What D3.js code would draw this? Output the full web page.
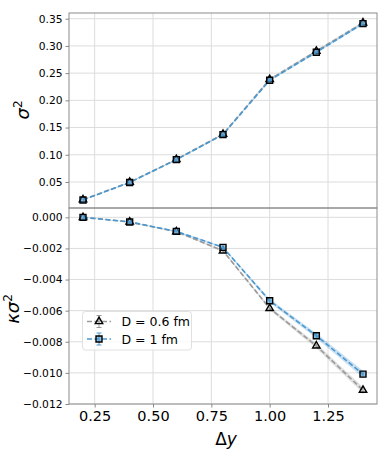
<!DOCTYPE html>
<html>
<head>
<meta charset="utf-8">
<script src="https://cdn.jsdelivr.net/npm/d3@7"></script>
<style>
body { margin: 0; background: #fff; }
text { font-family: "DejaVu Sans", sans-serif; fill: #000; }
</style>
</head>
<body>
<div id="chart"></div>
<script>
// data
var dy = [0.2, 0.4, 0.6, 0.8, 1.0, 1.2, 1.4];
var sig2_06 = [0.0175, 0.0495, 0.0915, 0.1380, 0.2385, 0.2905, 0.3425];
var sig2_1  = [0.0170, 0.0490, 0.0910, 0.1370, 0.2370, 0.2885, 0.3410];
var sig2err = [0.0005, 0.0008, 0.001, 0.0012, 0.0015, 0.0018, 0.002];
var ks2_06 = [0.0, -0.00030, -0.00092, -0.00215, -0.00585, -0.00826, -0.01111];
var ks2_1  = [0.0, -0.00030, -0.00090, -0.00193, -0.00536, -0.00761, -0.01008];
var ks2err_06 = [0.00001, 0.00002, 0.00004, 0.00006, 0.00010, 0.00015, 0.00020];
var ks2err_1  = [0.00001, 0.00002, 0.00004, 0.00006, 0.00011, 0.00016, 0.00022];
var xTicks = [0.25, 0.50, 0.75, 1.00, 1.25];
var topTicks = [0.05, 0.10, 0.15, 0.20, 0.25, 0.30, 0.35];
var botTicks = [0.000, -0.002, -0.004, -0.006, -0.008, -0.010, -0.012];
var labels = ["D = 0.6 fm", "D = 1 fm"];

var W = 381, H = 463;
var left = 69, right = 377;
var top1 = 13, bot1 = 208, bot2 = 404;
var gray = "#9a9a9a", blue = "#4a98d0";

var svg = d3.select("#chart").append("svg")
    .attr("width", W).attr("height", H);

var x = d3.scaleLinear().domain([0.14, 1.46]).range([left, right]);
var y1 = d3.scaleLinear().domain([0.0022, 0.3605]).range([bot1, top1]);
var y2 = d3.scaleLinear().domain([-0.0120, 0.0006]).range([bot2, bot1]);

function panel(y, yTicks, fmt, yTop, yBot, series) {
    var g = svg.append("g");
    // grid
    g.selectAll(".hg").data(yTicks).enter().append("line")
        .attr("x1", left).attr("x2", right)
        .attr("y1", function(d) { return y(d); }).attr("y2", function(d) { return y(d); })
        .attr("stroke", "#dcdcdc").attr("stroke-width", 1);
    g.selectAll(".vg").data(xTicks).enter().append("line")
        .attr("x1", function(d) { return x(d); }).attr("x2", function(d) { return x(d); })
        .attr("y1", yTop).attr("y2", yBot)
        .attr("stroke", "#dcdcdc").attr("stroke-width", 1);

    // y axis
    var ax = g.append("g").attr("transform", "translate(" + left + ",0)")
        .call(d3.axisLeft(y).tickValues(yTicks).tickFormat(fmt).tickSize(3.5).tickPadding(3));
    ax.select(".domain").remove();
    ax.selectAll("line").attr("stroke", "#888");
    ax.selectAll("text").style("font-size", "10.7px").style("font-family", "DejaVu Sans");

    series.forEach(function(s) {
        var pts = dy.map(function(d, i) { return {x: d, y: s.v[i], e: s.e[i]}; });
        // band
        g.append("path").datum(pts)
            .attr("d", d3.area().x(function(d) { return x(d.x); })
                .y0(function(d) { return y(d.y - d.e); })
                .y1(function(d) { return y(d.y + d.e); }))
            .attr("fill", s.c).attr("opacity", 0.3);
        // error bars
        g.selectAll(null).data(pts).enter().append("line")
            .attr("x1", function(d) { return x(d.x); }).attr("x2", function(d) { return x(d.x); })
            .attr("y1", function(d) { return y(d.y - d.e); }).attr("y2", function(d) { return y(d.y + d.e); })
            .attr("stroke", s.c).attr("stroke-width", 1);
        // line
        g.append("path").datum(pts)
            .attr("d", d3.line().x(function(d) { return x(d.x); }).y(function(d) { return y(d.y); }))
            .attr("fill", "none").attr("stroke", s.c).attr("stroke-width", 1.6)
            .attr("stroke-dasharray", "5,2.5");
        // markers
        g.selectAll(null).data(pts).enter().append("path")
            .attr("transform", function(d) { return "translate(" + x(d.x) + "," + y(d.y) + ")"; })
            .attr("d", s.sym)
            .attr("fill", s.c).attr("fill-opacity", s.fo)
            .attr("stroke", "#000").attr("stroke-width", 1.4);
    });
}

var tri = d3.symbol().type(d3.symbolTriangle).size(24)();
var sq = d3.symbol().type(d3.symbolSquare).size(36)();

panel(y1, topTicks, d3.format(".2f"), top1, bot1, [
    {v: sig2_06, e: sig2err, c: gray, sym: tri, fo: 0.2},
    {v: sig2_1, e: sig2err, c: blue, sym: sq, fo: 0.6}
]);
panel(y2, botTicks, function(d) { return d3.format(".3f")(d).replace("-", "\u2212"); }, bot1, bot2, [
    {v: ks2_06, e: ks2err_06, c: gray, sym: tri, fo: 0.2},
    {v: ks2_1, e: ks2err_1, c: blue, sym: sq, fo: 0.6}
]);

// frames
[[top1, bot1], [bot1, bot2]].forEach(function(p) {
    svg.append("rect").attr("x", left).attr("y", p[0])
        .attr("width", right - left).attr("height", p[1] - p[0])
        .attr("fill", "none").attr("stroke", "#8c8c8c").attr("stroke-width", 1);
});

// x axis
var xa = svg.append("g").attr("transform", "translate(0," + bot2 + ")")
    .call(d3.axisBottom(x).tickValues(xTicks).tickFormat(d3.format(".2f")).tickSize(3.5).tickPadding(3));
xa.select(".domain").remove();
xa.selectAll("line").attr("stroke", "#888");
xa.selectAll("text").style("font-size", "14.5px").style("font-family", "DejaVu Sans");

// axis labels
svg.append("text").attr("x", 226).attr("y", 445).attr("text-anchor", "middle")
    .style("font-size", "17px").html("\u0394<tspan font-style='italic'>y</tspan>");
svg.append("text").attr("transform", "translate(29,110) rotate(-90)").attr("text-anchor", "middle")
    .style("font-size", "18px")
    .html("<tspan font-style='italic'>\u03c3</tspan><tspan dy='-7' font-size='12px'>2</tspan>");
svg.append("text").attr("transform", "translate(19,309) rotate(-90)").attr("text-anchor", "middle")
    .style("font-size", "18px")
    .html("<tspan font-style='italic'>\u03ba\u03c3</tspan><tspan dy='-7' font-size='12px'>2</tspan>");

// legend
var lg = svg.append("g");
lg.append("rect").attr("x", 82.5).attr("y", 311.5).attr("width", 109).attr("height", 38.5).attr("rx", 3)
    .attr("fill", "#fff").attr("fill-opacity", 0.8).attr("stroke", "#e0e0e0");
var legItems = [{c: gray, sym: tri, fo: 0.2}, {c: blue, sym: sq, fo: 0.6}];
legItems.forEach(function(it, i) {
    var cy = 321.5 + i * 17.5, cx = 99;
    lg.append("line").attr("x1", cx - 12).attr("x2", cx + 12).attr("y1", cy).attr("y2", cy)
        .attr("stroke", it.c).attr("stroke-width", 1.6).attr("stroke-dasharray", "5,2.5");
    lg.append("line").attr("x1", cx).attr("x2", cx).attr("y1", cy - 6).attr("y2", cy + 6)
        .attr("stroke", it.c).attr("stroke-width", 1);
    lg.append("line").attr("x1", cx - 2.5).attr("x2", cx + 2.5).attr("y1", cy - 6).attr("y2", cy - 6)
        .attr("stroke", it.c).attr("stroke-width", 1);
    lg.append("line").attr("x1", cx - 2.5).attr("x2", cx + 2.5).attr("y1", cy + 6).attr("y2", cy + 6)
        .attr("stroke", it.c).attr("stroke-width", 1);
    lg.append("path").attr("transform", "translate(" + cx + "," + cy + ")").attr("d", it.sym)
        .attr("fill", it.c).attr("fill-opacity", it.fo).attr("stroke", "#000").attr("stroke-width", 1.4);
    lg.append("text").attr("x", 121.5).attr("y", cy + 4.5).style("font-size", "12.5px").text(labels[i]);
});
</script>
</body>
</html>
